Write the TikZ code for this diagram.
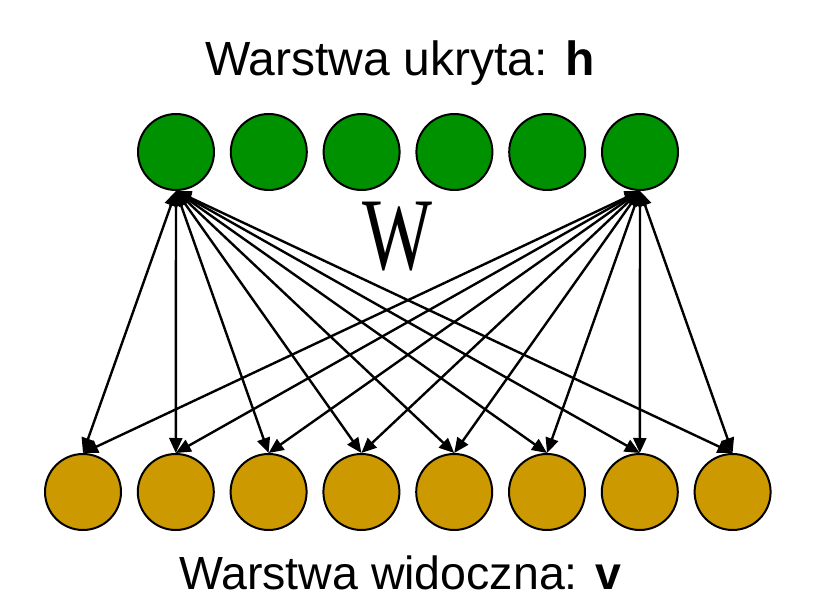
\documentclass[tikz,border=0pt]{standalone}
\usepackage{fontspec}
\setmainfont{Liberation Sans}
\newfontfamily\wserif{Liberation Serif}
\usetikzlibrary{arrows.meta}
\definecolor{hidgreen}{RGB}{0,145,0}
\definecolor{visgold}{RGB}{204,153,0}
\begin{document}
\begin{tikzpicture}[x=1pt,y=-1pt,
  unit/.style={circle,draw=black,line width=2pt,minimum size=76pt,inner sep=0pt},
  hid/.style={unit,fill=hidgreen},
  vis/.style={unit,fill=visgold},
  conn/.style={line width=2.4pt,{Triangle[length=15pt,width=13pt]}-{Triangle[length=15pt,width=13pt]}},
  lab/.style={inner sep=0pt,anchor=base}]
\useasboundingbox (0,0) rectangle (816,609);
\foreach \i in {1,...,6}{
  \node[hid] (h\i) at ({176+92.8*(\i-1)},152) {};
}
\foreach \i in {1,...,8}{
  \node[vis] (v\i) at ({83+92.8*(\i-1)},492) {};
}
\foreach \i in {1,...,8}{
  \draw[conn] (h1.south) -- (v\i.north);
  \draw[conn] (h6.south) -- (v\i.north);
}
\node[lab,font=\fontsize{48}{57}\selectfont] (top) at (400,76) {Warstwa ukryta: \textbf{h}};
\node[lab,font=\fontsize{46.5}{55}\selectfont] (bot) at (400,589) {Warstwa widoczna: \textbf{v}};
\node[inner sep=0pt,anchor=base,xscale=0.72,font=\wserif\fontsize{103}{110}\selectfont] (W) at (397,270) {W};
\end{tikzpicture}
\end{document}
